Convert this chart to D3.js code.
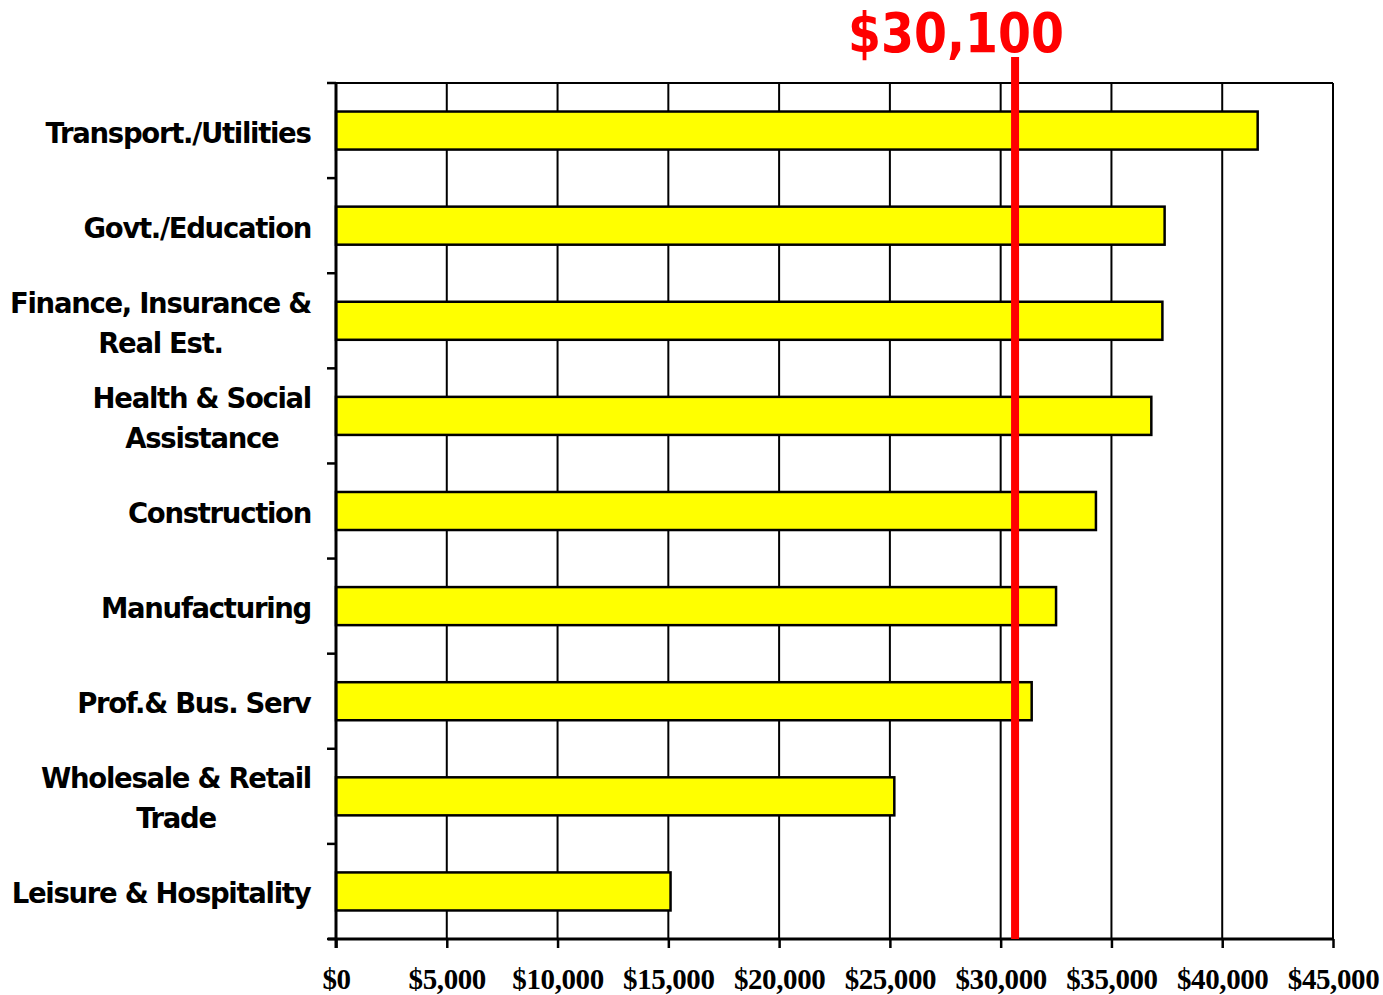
<!DOCTYPE html>
<html>
<head>
<meta charset="utf-8">
<script src="https://cdn.jsdelivr.net/npm/d3@7"></script>
<style>
  body { margin: 0; background: #fff; }
</style>
</head>
<body>
<script>
// data
var categories = [
  ["Transport./Utilities"],
  ["Govt./Education"],
  ["Finance, Insurance &", "Real Est."],
  ["Health & Social", "Assistance"],
  ["Construction"],
  ["Manufacturing"],
  ["Prof.& Bus. Serv"],
  ["Wholesale & Retail", "Trade"],
  ["Leisure & Hospitality"]
];
var wages = [41600, 37400, 37300, 36800, 34300, 32500, 31400, 25200, 15100];
var xTicks = [0, 5000, 10000, 15000, 20000, 25000, 30000, 35000, 40000, 45000];
var refValue = 30650;
var refLabel = "$30,100";

var width = 1383, height = 995;
var plotLeft = 336, plotRight = 1333, plotTop = 83, plotBottom = 939;

var svg = d3.select("body").append("svg")
  .attr("width", width).attr("height", height);

var x = d3.scaleLinear().domain([0, 45000]).range([plotLeft, plotRight]);
var y = d3.scaleBand().domain(d3.range(categories.length)).range([plotTop, plotBottom]).paddingInner(0.6).paddingOuter(0.3);
var yEdges = d3.scaleLinear().domain([0, categories.length]).range([plotTop, plotBottom]);

// gridlines
svg.append("g").selectAll("line").data(xTicks.slice(1)).enter().append("line")
  .attr("x1", d => x(d)).attr("x2", d => x(d))
  .attr("y1", plotTop).attr("y2", plotBottom)
  .attr("stroke", "#000").attr("stroke-width", 2);
// top border
svg.append("line").attr("x1", plotLeft).attr("x2", plotRight).attr("y1", plotTop).attr("y2", plotTop)
  .attr("stroke", "#000").attr("stroke-width", 2);

// bars
svg.append("g").selectAll("rect").data(wages).enter().append("rect")
  .attr("x", x(0))
  .attr("y", (d, i) => y(i))
  .attr("width", d => x(d) - x(0))
  .attr("height", y.bandwidth())
  .attr("fill", "#ffff00")
  .attr("stroke", "#000").attr("stroke-width", 2.5);

// x axis
var xAxis = d3.axisBottom(x).tickValues(xTicks).tickSize(9).tickPadding(20)
  .tickFormat(d => "$" + d3.format(",")(d));
var gx = svg.append("g").attr("transform", "translate(0," + plotBottom + ")").call(xAxis);
gx.select(".domain").attr("stroke-width", 3).attr("d", "M" + (plotLeft - 8) + ",0H" + plotRight);
gx.selectAll(".tick line").attr("stroke-width", 2.5);
gx.selectAll("text")
  .attr("font-family", "'Liberation Serif', 'Times New Roman', serif")
  .attr("font-weight", "bold").attr("font-size", 29).attr("fill", "#000")
  .attr("letter-spacing", -0.4);

// y axis line and ticks
svg.append("line").attr("x1", plotLeft).attr("x2", plotLeft).attr("y1", plotTop).attr("y2", plotBottom + 9)
  .attr("stroke", "#000").attr("stroke-width", 3);
svg.append("g").selectAll("line").data(d3.range(categories.length + 1)).enter().append("line")
  .attr("x1", plotLeft - 9).attr("x2", plotLeft)
  .attr("y1", d => yEdges(d)).attr("y2", d => yEdges(d))
  .attr("stroke", "#000").attr("stroke-width", 2.5);

// category labels
var lab = svg.append("g").selectAll("text").data(categories).enter().append("text")
  .attr("font-family", "'DejaVu Sans', Verdana, sans-serif")
  .attr("font-weight", "bold").attr("font-size", 27.5).attr("fill", "#000")
  .attr("letter-spacing", -1.3)
  .attr("text-anchor", "middle");
lab.each(function (d, i) {
  var t = d3.select(this);
  var cy = y(i) + y.bandwidth() / 2;
  var lh = 40;
  var n = d.length;
  d.forEach(function (line, k) {
    t.append("tspan").attr("x", 0).attr("y", cy + (k - (n - 1) / 2) * lh + 12).text(line);
  });
  var w = this.getBBox().width;
  t.attr("transform", "translate(" + (311 - w / 2) + ",0)");
});

// reference line
svg.append("line").attr("x1", x(refValue)).attr("x2", x(refValue))
  .attr("y1", 57).attr("y2", plotBottom)
  .attr("stroke", "#ff0000").attr("stroke-width", 8);
svg.append("text")
  .attr("x", x(refValue) - 59).attr("y", 52)
  .attr("text-anchor", "middle")
  .attr("font-family", "'DejaVu Sans', Verdana, sans-serif")
  .attr("font-weight", "bold").attr("font-size", 56).attr("fill", "#ff0000")
  .attr("textLength", 216).attr("lengthAdjust", "spacingAndGlyphs")
  .text(refLabel);
</script>
</body>
</html>
